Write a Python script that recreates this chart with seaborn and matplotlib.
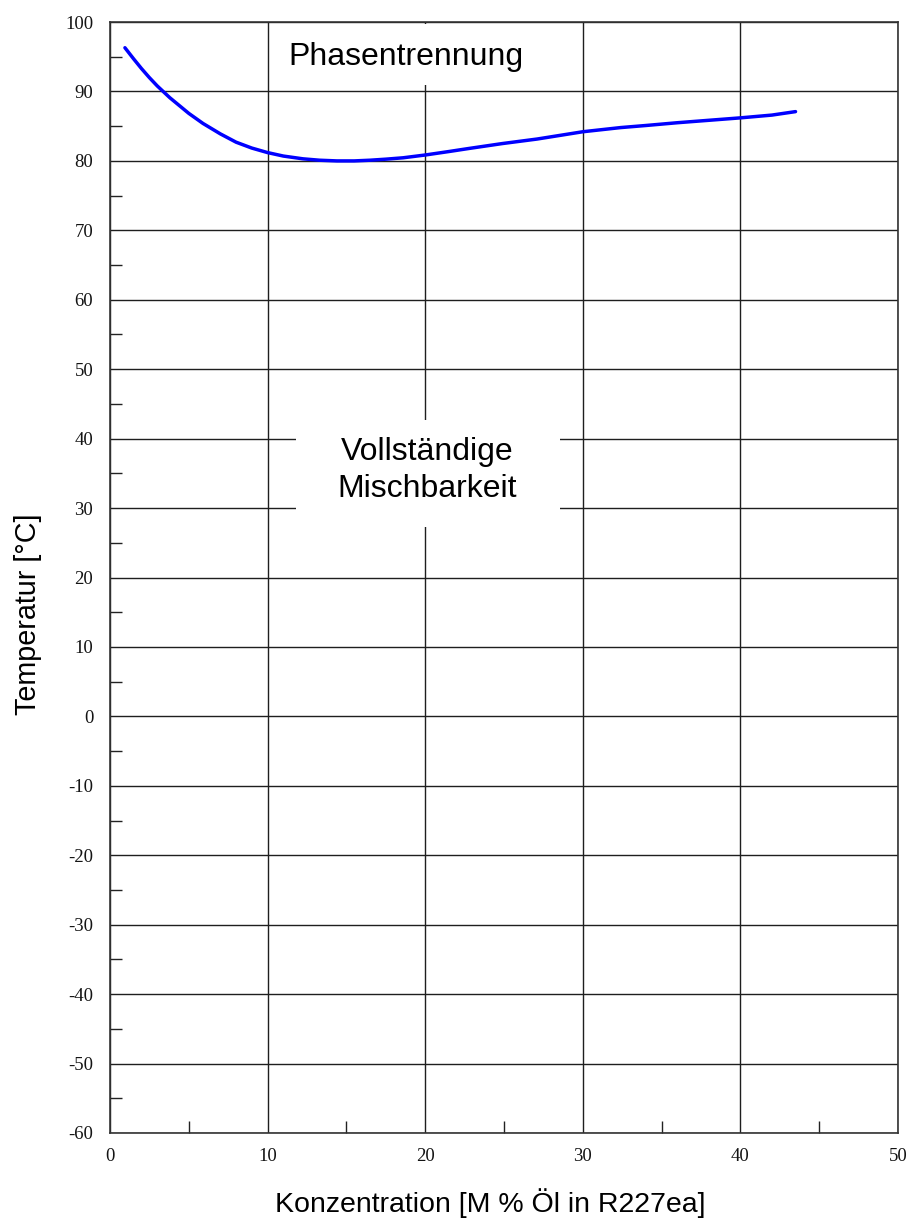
import numpy as np
import pandas as pd
import matplotlib
matplotlib.use('Agg')
import matplotlib.pyplot as plt
import seaborn as sns
from matplotlib.patches import Rectangle

# --- data ----------------------------------------------------------------
konz = [0.95, 1.5, 2.0, 2.5, 3.0, 3.8, 5.0, 5.9, 7.0, 8.0, 9.0, 10.0,
        11.0, 12.25, 13.3, 14.4, 15.5, 16.5, 17.5, 18.6, 20.0, 21.5,
        22.8, 24.9, 27.1, 30.0, 32.4, 34.0, 36.0, 38.0, 40.0, 42.0, 43.5]
temp = [96.3, 94.7, 93.3, 92.0, 90.8, 89.1, 86.85, 85.4, 83.9, 82.7, 81.85, 81.2,
        80.7, 80.3, 80.1, 80.0, 80.0, 80.1, 80.25, 80.45, 80.85, 81.35,
        81.8, 82.5, 83.15, 84.2, 84.8, 85.1, 85.5, 85.85, 86.2, 86.6, 87.1]

x_major = list(range(0, 51, 10))
y_major = list(range(-60, 101, 10))
x_minor = list(range(5, 50, 10))
y_minor = list(range(-55, 100, 10))

df = pd.DataFrame({'konz': konz, 'temp': temp})

# --- figure ---------------------------------------------------------------
sns.set_theme(style='white')
plt.rcParams['font.family'] = ['Liberation Sans', 'DejaVu Sans']

fig = plt.figure(figsize=(9.11, 12.18), dpi=100)
ax = fig.add_axes([0.1207, 0.0698, 0.8650, 0.9121])
ax.set_axisbelow(True)

sns.lineplot(data=df, x='konz', y='temp', sort=False, estimator=None,
             color='#0000ff', linewidth=2.5, ax=ax, zorder=3)

ax.set_xlim(0, 50)
ax.set_ylim(-60, 100)
ax.set_xticks(x_major)
ax.set_yticks(y_major)
ax.set_xticks(x_minor, minor=True)
ax.set_yticks(y_minor, minor=True)
ax.grid(True, which='major', color='#1e1e1e', linewidth=1.0)
ax.grid(False, which='minor')

tick_font = dict(family='Liberation Serif', size=13.5)
ax.set_xticklabels([str(v) for v in x_major], fontdict=tick_font, color='#141414')
ax.set_yticklabels([str(v) for v in y_major], fontdict=tick_font, color='#141414')
ax.tick_params(which='major', length=0, pad=11)
ax.tick_params(axis='y', which='major', pad=12)
ax.tick_params(which='minor', direction='in', length=8.5, width=1.0,
               color='#222222', bottom=True, left=True)

for s in ax.spines.values():
    s.set_color('#333333')
    s.set_linewidth(1.2)

ax.set_xlabel('')
ax.set_ylabel('')

# white backdrops behind the region labels
ax.add_patch(Rectangle((10.47, 90.93), 16.69, 8.77, facecolor='white',
                       edgecolor='none', zorder=1))
ax.add_patch(Rectangle((11.80, 27.28), 16.75, 15.40, facecolor='white',
                       edgecolor='none', zorder=1))

lab = dict(fontsize=23, family='Liberation Sans', color='black', zorder=4,
           ha='center', va='baseline')
ax.text(18.81, 93.81, 'Phasentrennung', **lab)
ax.text(20.1, 36.93, 'Vollständige', **lab)
ax.text(20.1, 31.60, 'Mischbarkeit', **lab)

fig.text(490 / 911, 1 - 1212 / 1218, 'Konzentration [M % Öl in R227ea]',
         fontsize=20.5, ha='center', va='baseline', color='black')
fig.text(28 / 911, 1 - 614 / 1218, 'Temperatur [°C]', rotation=90,
         fontsize=20.7, ha='center', va='center', color='black')

fig.savefig('out.png', dpi=100)
